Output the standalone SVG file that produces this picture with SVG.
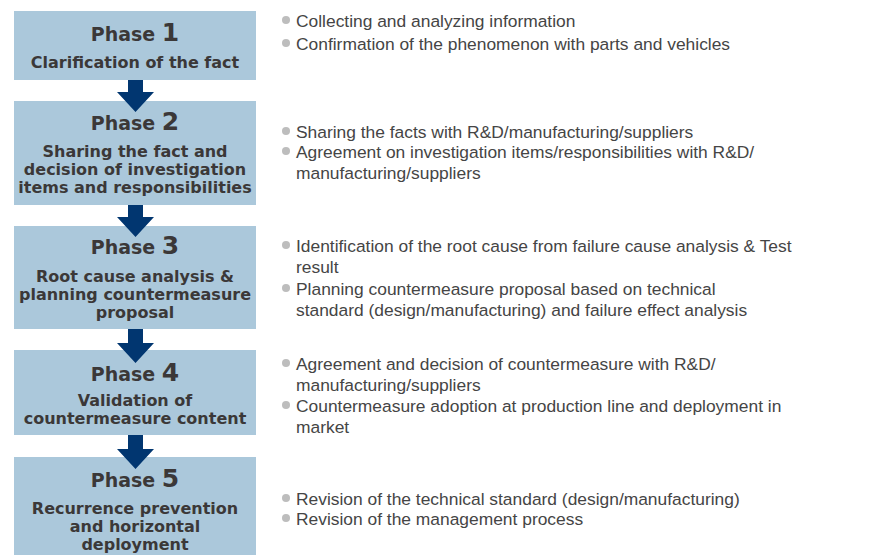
<svg xmlns="http://www.w3.org/2000/svg" width="894" height="555" viewBox="0 0 894 555">
<style>
.box{fill:#abc8db}
.ph{font-family:"DejaVu Sans","Liberation Sans",sans-serif;font-weight:bold;font-size:19px;fill:#3b3838;text-anchor:middle}
.num{font-size:25px}
.t{font-family:"DejaVu Sans","Liberation Sans",sans-serif;font-weight:bold;font-size:16px;fill:#3b3838;text-anchor:middle}
.d{font-family:"Liberation Sans",Arial,sans-serif;font-size:17.4px;fill:#454545;}
.b{fill:#bdbdbd}
.arr{fill:#013670}
</style>
<rect width="894" height="555" fill="#fff"/>
<g id="phase1">
<rect class="box" x="14" y="11" width="242" height="69"/>
<text class="ph" x="135" y="41">Phase <tspan class="num">1</tspan></text>
<text class="t" x="135" y="68">Clarification of the fact</text>
</g>
<g id="phase2">
<rect class="box" x="14" y="101" width="242" height="104"/>
<text class="ph" x="135" y="130">Phase <tspan class="num">2</tspan></text>
<text class="t" x="135" y="157">Sharing the fact and</text>
<text class="t" x="135" y="175">decision of investigation</text>
<text class="t" x="135" y="193">items and responsibilities</text>
</g>
<g id="phase3">
<rect class="box" x="14" y="226" width="242" height="103"/>
<text class="ph" x="135" y="254">Phase <tspan class="num">3</tspan></text>
<text class="t" x="135" y="282">Root cause analysis &amp;</text>
<text class="t" x="135" y="300">planning countermeasure</text>
<text class="t" x="135" y="318">proposal</text>
</g>
<g id="phase4">
<rect class="box" x="14" y="350" width="242" height="85"/>
<text class="ph" x="135" y="381">Phase <tspan class="num">4</tspan></text>
<text class="t" x="135" y="406">Validation of</text>
<text class="t" x="135" y="424">countermeasure content</text>
</g>
<g id="phase5">
<rect class="box" x="14" y="457" width="242" height="98"/>
<text class="ph" x="135" y="487">Phase <tspan class="num">5</tspan></text>
<text class="t" x="135" y="514">Recurrence prevention</text>
<text class="t" x="135" y="532">and horizontal</text>
<text class="t" x="135" y="550">deployment</text>
</g>
<g id="connectors">
<polygon class="arr" points="128,80 143,80 143,92 154,92 135.5,112 117,92 128,92"/>
<polygon class="arr" points="128,205 143,205 143,217 154,217 135.5,237 117,217 128,217"/>
<polygon class="arr" points="128,329 143,329 143,343 154,343 135.5,363 117,343 128,343"/>
<polygon class="arr" points="128,435 143,435 143,449 154,449 135.5,469 117,449 128,449"/>
</g>
<g id="notes">
<circle class="b" cx="286" cy="20" r="4"/>
<text class="d" x="296" y="27">Collecting and analyzing information</text>
<circle class="b" cx="286" cy="43" r="4"/>
<text class="d" x="296" y="50">Confirmation of the phenomenon with parts and vehicles</text>
<circle class="b" cx="286" cy="131" r="4"/>
<text class="d" x="296" y="138">Sharing the facts with R&amp;D/manufacturing/suppliers</text>
<circle class="b" cx="286" cy="151" r="4"/>
<text class="d" x="296" y="158">Agreement on investigation items/responsibilities with R&amp;D/</text>
<text class="d" x="296" y="179">manufacturing/suppliers</text>
<circle class="b" cx="286" cy="245" r="4"/>
<text class="d" x="296" y="252">Identification of the root cause from failure cause analysis &amp; Test</text>
<text class="d" x="296" y="273">result</text>
<circle class="b" cx="286" cy="288" r="4"/>
<text class="d" x="296" y="295">Planning countermeasure proposal based on technical</text>
<text class="d" x="296" y="316">standard (design/manufacturing) and failure effect analysis</text>
<circle class="b" cx="286" cy="363" r="4"/>
<text class="d" x="296" y="370">Agreement and decision of countermeasure with R&amp;D/</text>
<text class="d" x="296" y="391">manufacturing/suppliers</text>
<circle class="b" cx="286" cy="405" r="4"/>
<text class="d" x="296" y="412">Countermeasure adoption at production line and deployment in</text>
<text class="d" x="296" y="433">market</text>
<circle class="b" cx="286" cy="498" r="4"/>
<text class="d" x="296" y="505">Revision of the technical standard (design/manufacturing)</text>
<circle class="b" cx="286" cy="518" r="4"/>
<text class="d" x="296" y="525">Revision of the management process</text>
</g>
</svg>
